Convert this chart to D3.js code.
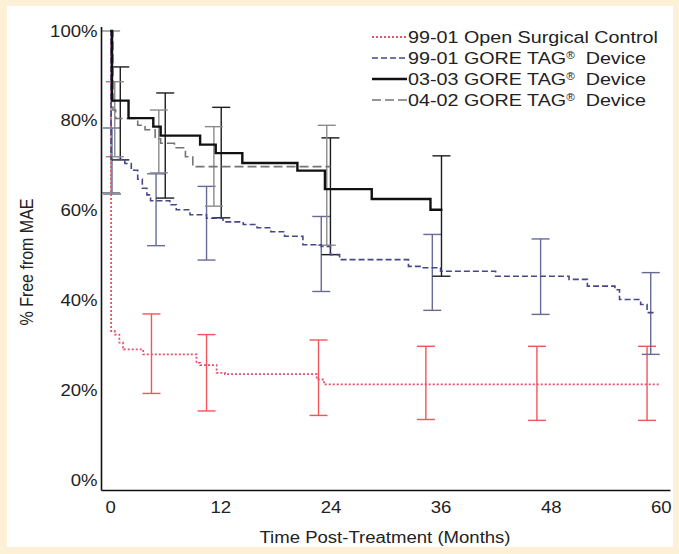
<!DOCTYPE html>
<html>
<head>
<meta charset="utf-8">
<script src="https://cdn.jsdelivr.net/npm/d3@7"></script>
<style>
  body { margin: 0; background: #fcf0d6; }
  svg { display: block; }
  text { font-family: "Liberation Sans", Arial, sans-serif; fill: #222; }
</style>
</head>
<body>
<svg width="679" height="554"></svg>
<script>
// ** DATA ** //
const xTicks = [0, 12, 24, 36, 48, 60];
const yTicks = [0, 20, 40, 60, 80, 100];
const seriesNames = [
  "99-01 Open Surgical Control",
  "99-01 GORE TAG",
  "03-03 GORE TAG",
  "04-02 GORE TAG"
];

// [month, % free] steps, last point = end of follow-up
const surgicalSteps = [
  [0, 100], [0.1, 33.2], [0.5, 32.4], [1.0, 30.6], [1.4, 29.5], [1.5, 29.1],
  [3.6, 28.0], [9.4, 26.1], [9.8, 25.6], [11.6, 23.9], [12.5, 23.6],
  [22.5, 22.4], [23.3, 21.3], [60, 21.3]
];
const tag9901Steps = [
  [0, 100], [0.1, 71.4], [1.6, 70.5], [2.3, 69], [3.0, 67], [3.5, 65], [4.0, 63.5],
  [4.4, 62.2], [6.5, 61.3], [7.2, 60.2], [8.7, 59.1], [10.5, 58.3], [12.3, 57.5],
  [14.5, 56.9], [16, 56.2], [17.5, 55.3], [19, 54.3], [21, 52.4], [23, 52],
  [24, 50.2], [25, 49.1], [32.5, 47.6], [34, 47.3], [36, 46.5], [42, 45.4],
  [50, 44.7], [52, 43.2], [55, 42.4], [55.5, 40.2], [57.8, 39.1], [58.5, 37.3],
  [59.5, 37.3]
];
const tag0303Steps = [
  [0, 100], [0.2, 84.5], [2.0, 80.6], [4.7, 78.7], [5.5, 76.7], [9.8, 74.7],
  [11.5, 72.8], [14.4, 70.6], [20.4, 68.9], [23.4, 64.8], [28.5, 62.6],
  [34.9, 60.2], [36.2, 60.2]
];
const tag0402Steps = [
  [0, 100], [0.3, 82.4], [0.6, 80.5], [3.0, 79], [3.8, 78], [4.9, 76], [5.5, 75],
  [7, 74], [8.2, 72], [9, 69.8], [24, 69.8]
];

// [month, upper %, lower %]
const surgicalBars = [
  [4.5, 37, 19.3], [10.5, 32.4, 15.4], [22.7, 31.2, 14.4],
  [34.4, 29.8, 13.5], [46.5, 29.8, 13.3], [58.5, 29.8, 13.3]
];
const tag9901Bars = [
  [0.2, 78.4, 63.7], [5.0, 68.2, 52.2], [10.5, 65.4, 49], [23, 58.7, 42],
  [35.1, 54.7, 37.8], [46.9, 53.7, 36.9], [58.9, 46.2, 28]
];
const tag0303Bars = [
  [1.1, 92, 71.3], [6, 86.2, 62.8], [12.1, 83, 58.4], [24, 76.2, 50.2], [36.1, 72.2, 45.4]
];
const tag0402Bars = [
  [0.1, 100, 64], [0.5, 88.7, 72], [5.3, 82.4, 68.4], [11.3, 78.7, 61], [23.6, 79, 52.3]
];

// ** STYLES ** //
const styles = [
  { line: "#e8506c", bar: "#f0555c", width: 1.8, dash: "2,2" },
  { line: "#45488a", bar: "#676a96", width: 1.6, dash: "6,3" },
  { line: "#111", bar: "#1c1c1c", width: 2.4, dash: null },
  { line: "#747474", bar: "#8a8a8a", width: 1.6, dash: "9,4" }
];
const SX = 1.16; // horizontal stretch of the lettering

const svg = d3.select("svg");
svg.append("rect").attr("width", 679).attr("height", 554).attr("fill", "#fcf0d6");
svg.append("rect").attr("x", 7).attr("y", 6).attr("width", 666).attr("height", 541).attr("fill", "#fff");

const x = d3.scaleLinear().domain([-1, 61]).range([101, 670]);
const y = d3.scaleLinear().domain([-2.2, 101]).range([490, 26.5]);

// ** ERROR BARS ** //
const allBars = [surgicalBars, tag9901Bars, tag0303Bars, tag0402Bars];
const cap = 9;
allBars.forEach((bars, i) => {
  const g = svg.append("g")
    .attr("stroke", styles[i].bar)
    .attr("stroke-width", 1.4)
    .attr("fill", "none");
  const b = g.selectAll("g").data(bars).enter().append("g");
  b.append("line")
    .attr("x1", d => x(d[0])).attr("x2", d => x(d[0]))
    .attr("y1", d => y(d[1])).attr("y2", d => y(d[2]));
  b.append("line")
    .attr("x1", d => x(d[0]) - cap).attr("x2", d => x(d[0]) + cap)
    .attr("y1", d => y(d[1])).attr("y2", d => y(d[1]));
  b.append("line")
    .attr("x1", d => x(d[0]) - cap).attr("x2", d => x(d[0]) + cap)
    .attr("y1", d => y(d[2])).attr("y2", d => y(d[2]));
});

// ** SURVIVAL CURVES ** //
const line = d3.line()
  .x(d => x(d[0]))
  .y(d => y(d[1]))
  .curve(d3.curveStepAfter);

const allSteps = [surgicalSteps, tag9901Steps, tag0402Steps, tag0303Steps];
const order = [0, 1, 3, 2];
allSteps.forEach((steps, k) => {
  const s = styles[order[k]];
  svg.append("path")
    .datum(steps)
    .attr("d", line)
    .attr("fill", "none")
    .attr("stroke", s.line)
    .attr("stroke-width", s.width)
    .attr("stroke-dasharray", s.dash);
});

// ** AXES ** //
const xAxis = svg.append("g")
  .attr("transform", "translate(0,490)")
  .call(d3.axisBottom(x).tickValues(xTicks).tickSize(0).tickSizeOuter(0).tickPadding(12));
const yAxis = svg.append("g")
  .attr("transform", "translate(101,0)")
  .call(d3.axisLeft(y).tickValues(yTicks).tickFormat(d => d + "%")
    .tickSize(0).tickSizeOuter(0).tickPadding(3));

[xAxis, yAxis].forEach(a => {
  a.attr("font-family", null).attr("font-size", null);
  a.select(".domain").attr("stroke", "#111").attr("stroke-width", 1.6);
  a.selectAll("text")
    .style("font-size", "16px")
    .attr("fill", "#222")
    .attr("transform", `scale(${SX},1)`);
});

svg.append("text")
  .attr("transform", `translate(385,543) scale(${SX},1)`)
  .attr("text-anchor", "middle")
  .style("font-size", "16px")
  .text("Time Post-Treatment (Months)");

svg.append("text")
  .attr("transform", `translate(33,262) scale(${SX},1) rotate(-90)`)
  .attr("text-anchor", "middle")
  .style("font-size", "16px")
  .text("% Free from MAE");

// ** LEGEND ** //
const legend = svg.append("g").attr("transform", "translate(372,37)");
const rowH = 21;
const item = legend.selectAll("g").data(seriesNames).enter().append("g")
  .attr("transform", (d, i) => `translate(0,${i * rowH})`);
item.append("line")
  .attr("x1", 0).attr("x2", 35)
  .attr("stroke", (d, i) => styles[i].line)
  .attr("stroke-width", (d, i) => styles[i].width)
  .attr("stroke-dasharray", (d, i) => styles[i].dash);
const label = item.append("text")
  .attr("transform", `translate(36,6) scale(${SX},1)`)
  .style("font-size", "17px");
label.append("tspan").text(d => d);
label.filter((d, i) => i > 0).append("tspan")
  .attr("dy", -5).style("font-size", "10px").text("®");
label.filter((d, i) => i > 0).append("tspan")
  .attr("dy", 5).attr("xml:space", "preserve").text("  Device");
</script>
</body>
</html>
